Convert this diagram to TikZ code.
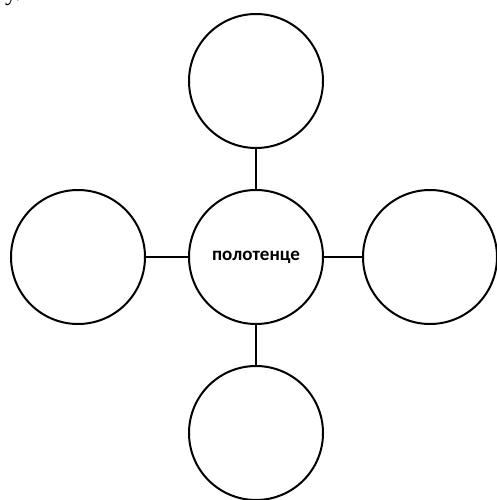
\documentclass[tikz,border=0pt]{standalone}
\usepackage{fontspec}
\setmainfont{Carlito}
\newfontfamily\serifru{Liberation Serif}
\begin{document}
\begin{tikzpicture}[x=1pt,y=-1pt,
  bubble/.style={circle,draw,line width=2pt,minimum size=134pt,inner sep=0pt},
  link/.style={line width=2pt}]
\useasboundingbox (0,0) rectangle (497,500);
\node[anchor=base west,inner sep=0pt,font=\serifru\fontsize{24}{24}\selectfont] (frag) at (5,1) {у.};
\node[bubble,font=\bfseries\fontsize{19}{22}\selectfont] (c) at (256,257) {полотенце};
\node[bubble] (t) at (256,81) {};
\node[bubble] (l) at (78,257) {};
\node[bubble] (r) at (430,257) {};
\node[bubble] (b) at (256,433) {};
\draw[link] (c) -- (t);
\draw[link] (c) -- (l);
\draw[link] (c) -- (r);
\draw[link] (c) -- (b);
\end{tikzpicture}
\end{document}
